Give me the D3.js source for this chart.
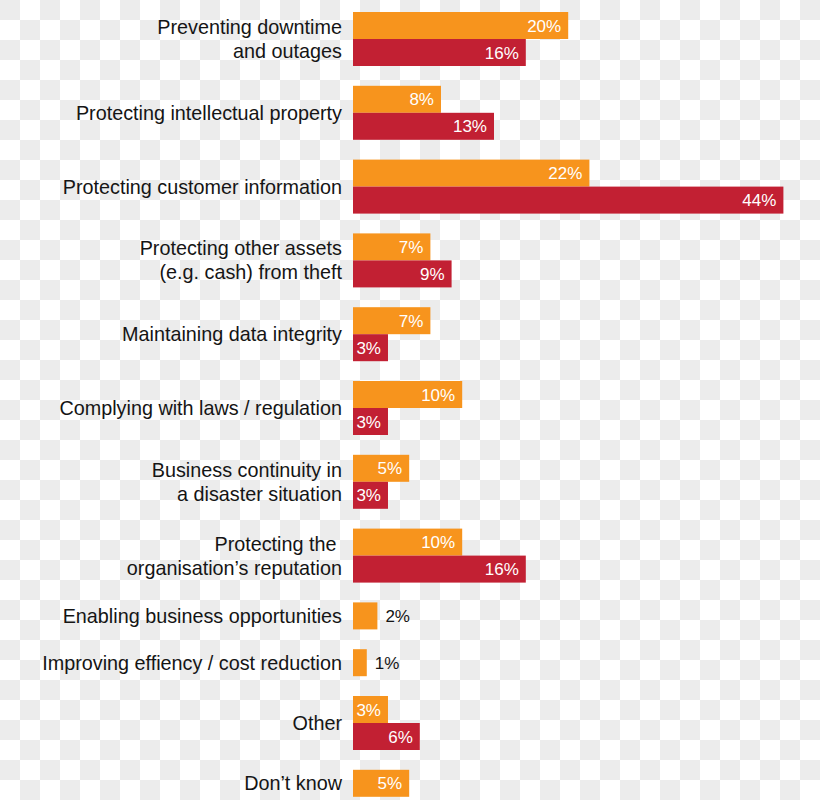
<!DOCTYPE html>
<html>
<head>
<meta charset="utf-8">
<script src="https://cdn.jsdelivr.net/npm/d3@7"></script>
<style>
  html, body { margin: 0; padding: 0; background: #fff; }
  svg { display: block; }
  text { font-family: "Liberation Sans", Arial, Helvetica, sans-serif; }
</style>
</head>
<body>
<svg id="chart" width="820" height="800"></svg>
<script>
// ---- data ----
const categories = [
  ["Preventing downtime", "and outages"],
  ["Protecting intellectual property"],
  ["Protecting customer information"],
  ["Protecting other assets", "(e.g. cash) from theft"],
  ["Maintaining data integrity"],
  ["Complying with laws / regulation"],
  ["Business continuity in", "a disaster situation"],
  ["Protecting the\u00A0", "organisation\u2019s reputation"],
  ["Enabling business opportunities"],
  ["Improving effiency / cost reduction"],
  ["Other"],
  ["Don\u2019t know"]
];
const seriesOrange = [20, 8, 22, 7, 7, 10, 5, 10, 2, 1, 3, 5];
const seriesRed    = [16, 13, 44, 9, 3, 3, 3, 16, null, null, 6, null];

(function () {
  // ---- layout ----
  const W = 820, H = 800;
  const barH = 27, gap = 19.8, topY = 12;
  const svg = d3.select("#chart");

  // checkerboard background
  const defs = svg.append("defs");
  const pat = defs.append("pattern").attr("id", "checker")
    .attr("width", 40).attr("height", 40).attr("patternUnits", "userSpaceOnUse");
  pat.append("rect").attr("width", 40).attr("height", 40).attr("fill", "#ffffff");
  pat.append("rect").attr("x", 0).attr("y", 0).attr("width", 20).attr("height", 20).attr("fill", "#ececec");
  pat.append("rect").attr("x", 20).attr("y", 20).attr("width", 20).attr("height", 20).attr("fill", "#ececec");
  svg.append("rect").attr("width", W).attr("height", H).attr("fill", "url(#checker)");

  // value scale (the longest bar is cut off at the right edge, as in the original)
  const x = d3.scaleLinear().domain([-0.3, 40.3]).range([353, 783.4]).clamp(true);

  const groups = [];
  let rows = 0;
  categories.forEach((c, i) => {
    const bars = [{ v: seriesOrange[i], color: "#f7941d" }];
    if (seriesRed[i] != null) bars.push({ v: seriesRed[i], color: "#c22033" });
    const y = topY + rows * barH + i * gap;
    groups.push({ label: c, bars, y });
    rows += bars.length;
  });

  const g = svg.selectAll("g.grp").data(groups).enter().append("g").attr("class", "grp")
    .attr("transform", d => `translate(0,${d.y})`);

  g.each(function (d) {
    const sel = d3.select(this);
    const h = d.bars.length * barH;
    const lh = 24;
    const t = sel.append("text")
      .attr("text-anchor", "end")
      .attr("font-size", 19.8)
      .attr("fill", "#151515")
      .style("white-space", "pre");
    d.label.forEach((line, k) => {
      t.append("tspan")
        .attr("x", 342)
        .attr("y", h / 2 + (k - (d.label.length - 1) / 2) * lh)
        .attr("dy", "0.35em")
        .text(line);
    });
    d.bars.forEach((b, k) => {
      sel.append("rect")
        .attr("x", x(-0.3))
        .attr("y", k * barH)
        .attr("width", x(b.v) - x(-0.3))
        .attr("height", barH)
        .attr("fill", b.color);
      const inside = b.v >= 3;
      sel.append("text")
        .attr("x", inside ? x(b.v) - 7 : x(b.v) + 8)
        .attr("y", k * barH + barH / 2)
        .attr("dy", "0.36em")
        .attr("text-anchor", inside ? "end" : "start")
        .attr("font-size", 17)
        .attr("fill", inside ? "#fff" : "#151515")
        .text(b.v + "%");
    });
  });
})();
</script>
</body>
</html>
